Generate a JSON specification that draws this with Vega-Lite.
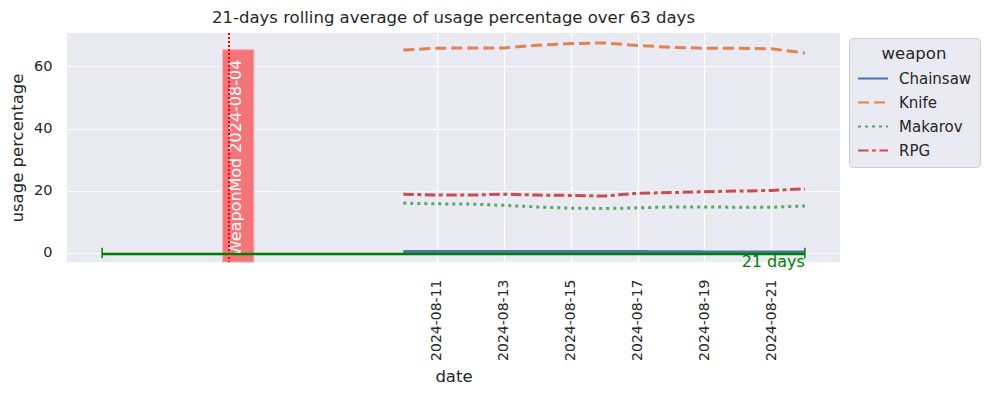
{
  "$schema": "https://vega.github.io/schema/vega-lite/v6.json",
  "autosize": {"type": "none"},
  "width": 773,
  "height": 229,
  "padding": {"left": 67, "top": 33, "right": 147, "bottom": 136},
  "background": "white",
  "title": {"text": "21-days rolling average of usage percentage over 63 days", "fontSize": 16.5, "fontWeight": "normal", "font": "DejaVu Sans", "color": "#262626", "anchor": "middle", "offset": 6},
  "datasets": {
    "lines": [
      {"date": "2024-08-10", "weapon": "Chainsaw", "value": 0.5},
      {"date": "2024-08-11", "weapon": "Chainsaw", "value": 0.5},
      {"date": "2024-08-12", "weapon": "Chainsaw", "value": 0.5},
      {"date": "2024-08-13", "weapon": "Chainsaw", "value": 0.5},
      {"date": "2024-08-14", "weapon": "Chainsaw", "value": 0.5},
      {"date": "2024-08-15", "weapon": "Chainsaw", "value": 0.5},
      {"date": "2024-08-16", "weapon": "Chainsaw", "value": 0.5},
      {"date": "2024-08-17", "weapon": "Chainsaw", "value": 0.45},
      {"date": "2024-08-18", "weapon": "Chainsaw", "value": 0.4},
      {"date": "2024-08-19", "weapon": "Chainsaw", "value": 0.35},
      {"date": "2024-08-20", "weapon": "Chainsaw", "value": 0.3},
      {"date": "2024-08-21", "weapon": "Chainsaw", "value": 0.3},
      {"date": "2024-08-22", "weapon": "Chainsaw", "value": 0.3},
      {"date": "2024-08-10", "weapon": "Knife", "value": 65.2},
      {"date": "2024-08-11", "weapon": "Knife", "value": 65.8},
      {"date": "2024-08-12", "weapon": "Knife", "value": 65.9},
      {"date": "2024-08-13", "weapon": "Knife", "value": 65.9},
      {"date": "2024-08-14", "weapon": "Knife", "value": 66.8},
      {"date": "2024-08-15", "weapon": "Knife", "value": 67.3},
      {"date": "2024-08-16", "weapon": "Knife", "value": 67.5},
      {"date": "2024-08-17", "weapon": "Knife", "value": 66.7},
      {"date": "2024-08-18", "weapon": "Knife", "value": 66.1},
      {"date": "2024-08-19", "weapon": "Knife", "value": 65.8},
      {"date": "2024-08-20", "weapon": "Knife", "value": 65.8},
      {"date": "2024-08-21", "weapon": "Knife", "value": 65.6},
      {"date": "2024-08-22", "weapon": "Knife", "value": 64.3},
      {"date": "2024-08-10", "weapon": "Makarov", "value": 16.0},
      {"date": "2024-08-11", "weapon": "Makarov", "value": 15.8},
      {"date": "2024-08-12", "weapon": "Makarov", "value": 15.7},
      {"date": "2024-08-13", "weapon": "Makarov", "value": 15.3},
      {"date": "2024-08-14", "weapon": "Makarov", "value": 14.8},
      {"date": "2024-08-15", "weapon": "Makarov", "value": 14.4},
      {"date": "2024-08-16", "weapon": "Makarov", "value": 14.3},
      {"date": "2024-08-17", "weapon": "Makarov", "value": 14.5},
      {"date": "2024-08-18", "weapon": "Makarov", "value": 14.8},
      {"date": "2024-08-19", "weapon": "Makarov", "value": 14.8},
      {"date": "2024-08-20", "weapon": "Makarov", "value": 14.7},
      {"date": "2024-08-21", "weapon": "Makarov", "value": 14.7},
      {"date": "2024-08-22", "weapon": "Makarov", "value": 15.1},
      {"date": "2024-08-10", "weapon": "RPG", "value": 18.9},
      {"date": "2024-08-11", "weapon": "RPG", "value": 18.6},
      {"date": "2024-08-12", "weapon": "RPG", "value": 18.6},
      {"date": "2024-08-13", "weapon": "RPG", "value": 18.9},
      {"date": "2024-08-14", "weapon": "RPG", "value": 18.6},
      {"date": "2024-08-15", "weapon": "RPG", "value": 18.5},
      {"date": "2024-08-16", "weapon": "RPG", "value": 18.3},
      {"date": "2024-08-17", "weapon": "RPG", "value": 19.2},
      {"date": "2024-08-18", "weapon": "RPG", "value": 19.4},
      {"date": "2024-08-19", "weapon": "RPG", "value": 19.7},
      {"date": "2024-08-20", "weapon": "RPG", "value": 19.9},
      {"date": "2024-08-21", "weapon": "RPG", "value": 20.1},
      {"date": "2024-08-22", "weapon": "RPG", "value": 20.6}
    ],
    "span": [
      {"date": "2024-08-01", "end": "2024-08-22", "value": -0.3, "label": "21 days"}
    ],
    "caps": [
      {"date": "2024-08-01", "lo": -1.7, "hi": 1.7},
      {"date": "2024-08-22", "lo": -1.7, "hi": 1.7}
    ],
    "event": [
      {"start": "2024-08-04T14:30:00Z", "end": "2024-08-05T12:45:00Z", "top": 65.3, "bottom": -2.9, "line": "2024-08-04T19:00:00Z", "mid": "2024-08-05T00:00:00Z", "textY": -1, "label": "WeaponMod 2024-08-04"}
    ]
  },
  "layer": [
    {
      "data": {"name": "lines"},
      "mark": {"type": "line", "strokeWidth": 3},
      "encoding": {
        "x": {
          "field": "date", "type": "temporal", "title": "date",
          "scale": {"type": "utc", "nice": false, "domain": [
            {"year": 2024, "month": 7, "date": 30, "hours": 22, "minutes": 48, "utc": true},
            {"year": 2024, "month": 8, "date": 23, "hours": 1, "minutes": 12, "utc": true}
          ]},
          "axis": {
            "values": [
              {"year": 2024, "month": 8, "date": 11, "utc": true},
              {"year": 2024, "month": 8, "date": 13, "utc": true},
              {"year": 2024, "month": 8, "date": 15, "utc": true},
              {"year": 2024, "month": 8, "date": 17, "utc": true},
              {"year": 2024, "month": 8, "date": 19, "utc": true},
              {"year": 2024, "month": 8, "date": 21, "utc": true}
            ],
            "format": "%Y-%m-%d", "labelAngle": 270, "labelPadding": 17, "titlePadding": 8
          }
        },
        "y": {
          "field": "value", "type": "quantitative", "title": "usage percentage",
          "scale": {"domain": [-2.9, 70.7], "nice": false, "zero": false},
          "axis": {"values": [0, 20, 40, 60], "labelPadding": 15, "titlePadding": 8, "labelFontSize": 14.5}
        },
        "color": {
          "field": "weapon", "type": "nominal", "title": "weapon",
          "scale": {"domain": ["Chainsaw", "Knife", "Makarov", "RPG"], "range": ["#4c72b0", "#dd8452", "#55a868", "#c44e52"]},
          "legend": {"orient": "none", "legendX": 782, "legendY": 5}
        },
        "strokeDash": {
          "field": "weapon", "type": "nominal", "title": "weapon",
          "scale": {"domain": ["Chainsaw", "Knife", "Makarov", "RPG"], "range": [[1, 0], [11, 5], [3, 4], [10.5, 3.5, 4, 3.5]]},
          "legend": {"orient": "none", "legendX": 782, "legendY": 5}
        }
      }
    },
    {
      "data": {"name": "event"},
      "mark": {"type": "rect", "fill": "#f47579", "stroke": "#f6a3a5", "strokeWidth": 1},
      "encoding": {
        "x": {"field": "start", "type": "temporal", "title": "date"},
        "x2": {"field": "end"},
        "y": {"field": "bottom", "type": "quantitative", "title": "usage percentage"},
        "y2": {"field": "top"}
      }
    },
    {
      "data": {"name": "event"},
      "mark": {"type": "text", "angle": 270, "align": "left", "baseline": "middle", "color": "white", "fontSize": 16},
      "encoding": {
        "x": {"field": "mid", "type": "temporal", "title": "date"},
        "y": {"field": "textY", "type": "quantitative", "title": "usage percentage"},
        "text": {"field": "label"}
      }
    },
    {
      "data": {"name": "event"},
      "mark": {"type": "rule", "color": "red", "strokeWidth": 2, "strokeDash": [2, 2]},
      "encoding": {
        "x": {"field": "line", "type": "temporal", "title": "date"}
      }
    },
    {
      "data": {"name": "span"},
      "mark": {"type": "rule", "color": "#008000", "strokeWidth": 2.5},
      "encoding": {
        "x": {"field": "date", "type": "temporal", "title": "date"},
        "x2": {"field": "end"},
        "y": {"field": "value", "type": "quantitative", "title": "usage percentage"}
      }
    },
    {
      "data": {"name": "caps"},
      "mark": {"type": "rule", "color": "#008000", "strokeWidth": 1.5},
      "encoding": {
        "x": {"field": "date", "type": "temporal", "title": "date"},
        "y": {"field": "lo", "type": "quantitative", "title": "usage percentage"},
        "y2": {"field": "hi"}
      }
    },
    {
      "data": {"name": "span"},
      "mark": {"type": "text", "align": "right", "baseline": "top", "color": "#008000", "fontSize": 16, "dy": 0},
      "encoding": {
        "x": {"field": "end", "type": "temporal", "title": "date"},
        "y": {"field": "value", "type": "quantitative", "title": "usage percentage"},
        "text": {"field": "label"}
      }
    }
  ],
  "config": {
    "font": "DejaVu Sans",
    "view": {"fill": "#eaeaf2", "stroke": null},
    "axis": {"domain": false, "ticks": false, "gridColor": "white", "gridWidth": 1.2, "labelColor": "#262626", "titleColor": "#262626", "labelFontSize": 14, "titleFontSize": 16.5, "titleFontWeight": "normal", "labelFont": "DejaVu Sans", "titleFont": "DejaVu Sans"},
    "legend": {"fillColor": "#eaeaf2", "strokeColor": "#cccccc", "cornerRadius": 4, "padding": 8, "titleAnchor": "middle", "titleFontSize": 16.5, "titleFontWeight": "normal", "titleColor": "#262626", "titlePadding": 0, "labelFontSize": 15, "labelColor": "#262626", "symbolType": "stroke", "symbolSize": 900, "symbolStrokeWidth": 2, "labelOffset": 10, "rowPadding": -2, "titleFont": "DejaVu Sans", "labelFont": "DejaVu Sans"}
  }
}
